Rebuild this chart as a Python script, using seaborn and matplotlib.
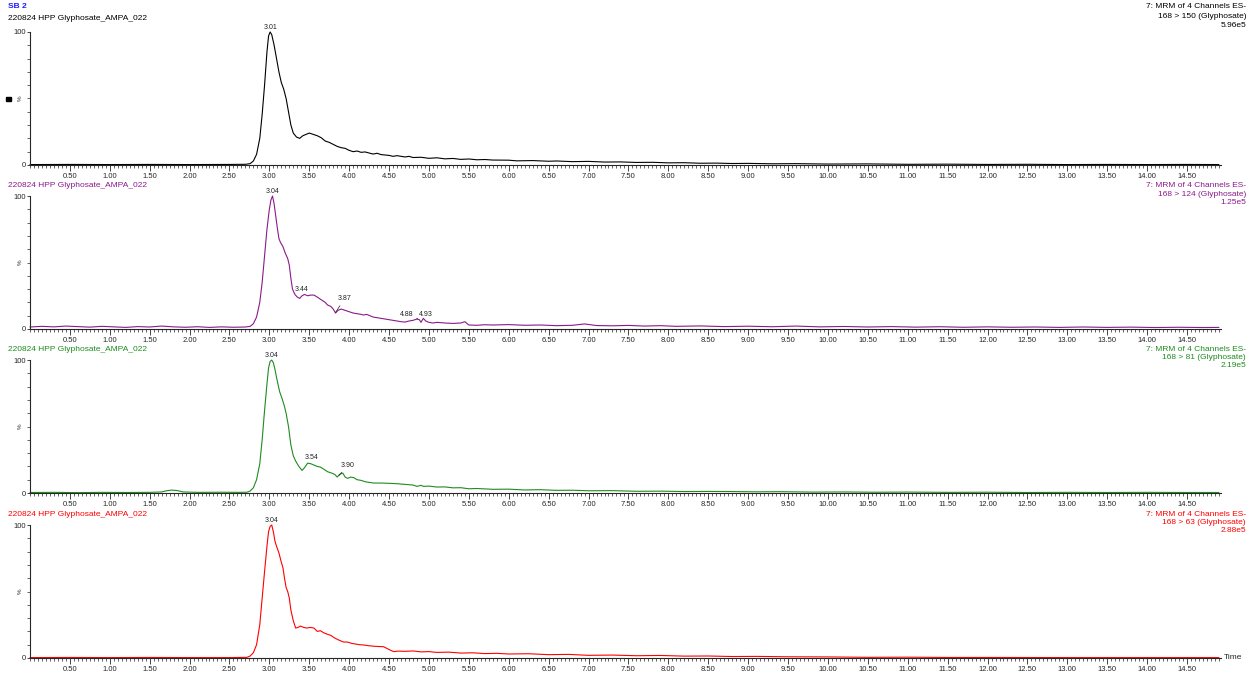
import numpy as np
import pandas as pd
import seaborn as sns
import matplotlib.pyplot as plt
from matplotlib.ticker import MultipleLocator, FixedLocator

# --- data (time in min, relative intensity %) ---
black_t = [0.0, 0.5, 1.0, 1.5, 2.0, 2.5, 2.7, 2.76, 2.80, 2.84, 2.88, 2.91, 2.94, 2.97, 2.99, 3.01,
           3.03, 3.06, 3.09, 3.12, 3.15, 3.18, 3.21, 3.24, 3.27, 3.30, 3.34, 3.38, 3.42, 3.46, 3.50,
           3.55, 3.60, 3.65, 3.70, 3.75, 3.80, 3.85, 3.90, 3.95, 4.00, 4.05, 4.10, 4.15, 4.20, 4.30,
           4.35, 4.40, 4.50, 4.55, 4.60, 4.70, 4.75, 4.80, 4.90, 5.00, 5.10, 5.20, 5.30, 5.40, 5.50,
           5.60, 5.70, 5.80, 6.00, 6.10, 6.30, 6.50, 6.60, 6.80, 7.00, 7.20, 7.40, 7.60, 7.80, 8.00,
           8.20, 8.40, 8.60, 8.80, 9.00, 9.30, 9.60, 10.0, 10.5, 11.0, 11.5, 12.0, 12.5, 13.0, 13.5,
           14.0, 14.5, 14.9]
black_y = [0.3, 0.4, 0.3, 0.4, 0.3, 0.4, 0.5, 1, 3, 8, 20, 38, 60, 85, 97, 100,
           98, 90, 80, 70, 62, 57, 50, 40, 30, 24, 21, 20, 22, 23, 24,
           23, 22, 20.5, 18, 17, 15.5, 14, 13, 12.5, 11, 10, 10.5, 9.5, 9.8, 8.2,
           8.8, 7.8, 7.2, 6.5, 7.0, 6.0, 6.5, 5.6, 5.8, 5.0, 5.4, 4.6, 4.9, 4.2, 4.5,
           3.9, 4.1, 3.7, 3.6, 3.1, 3.3, 2.8, 3.0, 2.5, 2.7, 2.2, 2.3, 1.9, 2.0, 1.6,
           1.7, 1.3, 1.4, 1.1, 1.2, 0.9, 1.0, 0.7, 0.8, 0.5, 0.6, 0.4, 0.5, 0.3, 0.4,
           0.3, 0.4, 0.3]

purple_t = [0.0, 0.15, 0.3, 0.45, 0.6, 0.75, 0.9, 1.05, 1.2, 1.35, 1.5, 1.65, 1.8, 1.95, 2.1, 2.25,
            2.4, 2.55, 2.7, 2.76, 2.80, 2.84, 2.88, 2.91, 2.94, 2.97, 3.00, 3.02, 3.04, 3.06, 3.08,
            3.10, 3.12, 3.14, 3.17, 3.20, 3.23, 3.25, 3.27, 3.29, 3.32, 3.35, 3.38, 3.41, 3.44, 3.48,
            3.52, 3.56, 3.60, 3.65, 3.70, 3.73, 3.77, 3.80, 3.83, 3.86, 3.90, 3.95, 4.00, 4.05, 4.10,
            4.15, 4.18, 4.22, 4.26, 4.30, 4.35, 4.40, 4.45, 4.50, 4.55, 4.60, 4.65, 4.70, 4.75, 4.80,
            4.85, 4.88, 4.90, 4.93, 4.96, 5.00, 5.05, 5.10, 5.20, 5.30, 5.40, 5.45, 5.50, 5.60, 5.70,
            5.80, 6.00, 6.20, 6.40, 6.60, 6.80, 6.95, 7.10, 7.30, 7.50, 7.70, 7.90, 8.10, 8.40, 8.70,
            9.00, 9.30, 9.60, 9.90, 10.2, 10.5, 10.8, 11.1, 11.4, 11.7, 12.0, 12.3, 12.6, 12.9, 13.2,
            13.5, 13.8, 14.1, 14.4, 14.7, 14.9]
purple_y = [1.5, 2.0, 1.6, 2.2, 1.8, 1.4, 2.0, 1.6, 1.2, 1.8, 1.5, 2.2, 1.6, 1.3, 1.7, 1.2,
            1.6, 1.3, 1.5, 2, 4, 9, 20, 35, 55, 75, 90, 97, 100, 94, 85,
            76, 68, 65, 62, 57, 53, 48, 38, 30, 26, 24, 23, 25, 26, 25,
            25.5, 25.5, 24, 22, 20, 18, 17, 15, 12, 14, 15, 14, 13, 12, 11.5,
            11, 10.5, 11, 10, 9, 8.5, 8, 7.5, 7, 6.5, 6, 5.5, 5.2, 6, 6.5,
            7.5, 7.0, 5, 8, 6, 5, 4.5, 5, 4.5, 4.2, 4.5, 5.5, 3.0, 2.8, 3.2,
            3.0, 3.3, 2.8, 3.0, 2.5, 2.8, 3.8, 2.6, 2.4, 2.7, 2.2, 2.5, 2.0, 2.3, 1.8,
            2.1, 1.7, 2.2, 1.6, 1.9, 1.5, 1.8, 1.4, 1.7, 1.3, 1.6, 1.3, 1.5, 1.2, 1.5,
            1.2, 1.4, 1.1, 1.3, 1.1, 1.2]

green_t = [0.0, 0.3, 0.6, 0.9, 1.2, 1.5, 1.65, 1.72, 1.78, 1.85, 1.92, 2.1, 2.4, 2.6, 2.72, 2.76,
           2.80, 2.84, 2.88, 2.91, 2.94, 2.97, 2.99, 3.01, 3.03, 3.05, 3.07, 3.10, 3.13, 3.16, 3.19,
           3.21, 3.24, 3.27, 3.30, 3.33, 3.37, 3.41, 3.44, 3.48, 3.52, 3.56, 3.60, 3.64, 3.68, 3.73,
           3.78, 3.82, 3.85, 3.88, 3.92, 3.95, 3.98, 4.02, 4.06, 4.10, 4.15, 4.20, 4.25, 4.31, 4.40,
           4.50, 4.60, 4.70, 4.80, 4.85, 4.90, 4.93, 5.00, 5.10, 5.20, 5.30, 5.40, 5.50, 5.60, 5.80,
           6.00, 6.20, 6.40, 6.60, 6.80, 7.00, 7.30, 7.60, 7.90, 8.20, 8.50, 8.80, 9.10, 9.40, 9.80,
           10.2, 10.6, 11.0, 11.5, 12.0, 12.5, 13.0, 13.5, 14.0, 14.5, 14.9]
green_y = [0.4, 0.5, 0.3, 0.5, 0.4, 0.5, 0.8, 1.8, 2.2, 1.8, 0.8, 0.5, 0.6, 0.5, 0.6, 1.5,
           4, 10, 22, 40, 62, 82, 94, 99, 100, 98, 93, 84, 76, 71, 65,
           60, 50, 36, 28, 24, 20, 17, 19, 22.5, 22, 21, 20, 19.5, 18, 16,
           15, 14, 12, 14, 15, 12, 11, 12, 11.5, 10, 9.5, 8.5, 8, 7.5, 7.5,
           7.3, 7.0, 6.5, 6, 5, 5.8, 5, 5.2, 4.5, 4.6, 3.9, 4.0, 3.2, 3.4, 2.8,
           2.9, 2.3, 2.5, 2.0, 2.1, 1.7, 1.8, 1.3, 1.4, 1.1, 1.2, 1.1, 0.9, 1.0, 0.7,
           0.8, 0.6, 0.7, 0.5, 0.6, 0.4, 0.5, 0.4, 0.5, 0.4, 0.4]

red_t = [0.0, 0.5, 1.0, 1.5, 2.0, 2.5, 2.72, 2.76, 2.80, 2.84, 2.88, 2.91, 2.94, 2.97, 2.99, 3.01,
         3.03, 3.05, 3.07, 3.09, 3.12, 3.15, 3.17, 3.19, 3.21, 3.23, 3.25, 3.27, 3.30, 3.33, 3.36,
         3.39, 3.43, 3.47, 3.51, 3.56, 3.60, 3.64, 3.68, 3.72, 3.77, 3.82, 3.87, 3.93, 3.98, 4.03,
         4.08, 4.13, 4.18, 4.25, 4.32, 4.38, 4.43, 4.48, 4.53, 4.56, 4.62, 4.70, 4.80, 4.90, 5.00,
         5.10, 5.25, 5.40, 5.55, 5.70, 5.85, 6.00, 6.25, 6.50, 6.75, 7.00, 7.30, 7.60, 7.90, 8.20,
         8.50, 8.80, 9.10, 9.50, 10.0, 10.5, 11.0, 11.5, 12.0, 13.0, 14.0, 14.9]
red_y = [0.3, 0.4, 0.3, 0.4, 0.3, 0.3, 0.5, 1.5, 4, 10, 25, 45, 65, 84, 95, 99,
         100, 95, 88, 84, 79, 72, 68, 60, 53, 50, 45, 36, 28, 22.5, 23,
         24, 23, 22.5, 23, 22.5, 20, 20.5, 19, 18, 17, 15, 13.5, 12, 12, 11,
         10.5, 10, 9.8, 9.2, 8.8, 8.6, 8.5, 7, 5.5, 4.8, 5.2, 5.0, 5.3, 4.6, 4.8,
         4.2, 4.4, 3.7, 3.9, 3.3, 3.5, 3.0, 3.2, 2.5, 2.7, 2.0, 2.2, 1.7, 1.9, 1.4,
         1.5, 1.1, 1.2, 0.9, 0.8, 0.5, 0.6, 0.4, 0.4, 0.3, 0.3, 0.3]

channels = ["168 > 150 (Glyphosate)", "168 > 124 (Glyphosate)",
            "168 > 81 (Glyphosate)", "168 > 63 (Glyphosate)"]
scales = ["5.96e5", "1.25e5", "2.19e5", "2.88e5"]
colors = ["#000000", "#8B1A8B", "#1E8C1E", "#FF0000"]
series = [(black_t, black_y), (purple_t, purple_y), (green_t, green_y), (red_t, red_y)]

# peak labels: (label, label x, label y, point x, point y) ; point None -> no leader
peaks = [
    [("3.01", 3.01, 101, None, None)],
    [("3.04", 3.04, 101, None, None), ("3.44", 3.40, 27, None, None),
     ("3.87", 3.94, 20, 3.83, 12.5), ("4.88", 4.72, 8.5, 4.86, 7.5), ("4.93", 4.96, 8.5, None, None)],
    [("3.04", 3.03, 101, None, None), ("3.54", 3.53, 24, None, None),
     ("3.90", 3.98, 18, 3.87, 13)],
    [("3.04", 3.03, 101, None, None)],
]

sns.set_style("ticks")
plt.rcParams['font.family'] = ['Liberation Sans', 'DejaVu Sans']

fig = plt.figure(figsize=(12.48, 6.75), dpi=100)
left, width, height = 0.024, 0.954, 0.197
bottoms = [0.7556, 0.5126, 0.2696, 0.0252]
# vertical pixel offsets of the header lines relative to each panel's top
name_off = [-13, -11, -11, -11]
info_off = [(-25, -15, -6), (-11, -2, 6), (-11, -3, 5), (-11, -3, 5)]

for i in range(4):
    ax = fig.add_axes([left, bottoms[i], width, height])
    df = pd.DataFrame({"t": series[i][0], "y": series[i][1]})
    sns.lineplot(data=df, x="t", y="y", ax=ax, color=colors[i], linewidth=0.8, clip_on=False)
    ax.set_xlim(0, 14.92)
    ax.set_ylim(0, 100)
    ax.set_xlabel("")
    ax.set_ylabel("")
    sns.despine(ax=ax)
    for s in ax.spines.values():
        s.set_linewidth(0.8)
    ax.xaxis.set_major_locator(FixedLocator(np.arange(0.5, 14.6, 0.5)))
    ax.xaxis.set_minor_locator(MultipleLocator(0.05))
    ax.set_xticklabels([f"{v:.2f}" for v in np.arange(0.5, 14.6, 0.5)])
    ax.yaxis.set_major_locator(FixedLocator([0, 100]))
    ax.yaxis.set_minor_locator(MultipleLocator(10))
    ax.set_yticklabels(["0", "100"])
    ax.tick_params(axis='x', which='major', length=4, width=0.6, labelsize=5.5, pad=2)
    ax.tick_params(axis='x', which='minor', length=2, width=0.5)
    ax.tick_params(axis='y', which='major', length=2, width=0.6, labelsize=5.5, pad=1)
    ax.tick_params(axis='y', which='minor', length=2, width=0.5)

    ax.text(-0.008, 0.5, "%", transform=ax.transAxes, fontsize=4.5, rotation=90,
            ha='center', va='center', color='#333333')

    top_px = (1 - (bottoms[i] + height)) * 675
    fig.text(8 / 1248, 1 - (top_px + name_off[i]) / 675, "220824 HPP Glyphosate_AMPA_022",
             fontsize=6, color=colors[i], ha='left', va='center')
    lines = ["7: MRM of 4 Channels ES-", channels[i], scales[i]]
    for txt, off in zip(lines, info_off[i]):
        fig.text(1246 / 1248, 1 - (top_px + off) / 675, txt,
                 fontsize=6, color=colors[i], ha='right', va='center')

    for lab, lx, ly, px, py in peaks[i]:
        if px is None:
            ax.text(lx, ly, lab, fontsize=5, ha='center', va='bottom', color='#222222')
        else:
            ax.annotate(lab, xy=(px, py), xytext=(lx, ly), fontsize=5, ha='center', va='bottom',
                        color='#222222',
                        arrowprops=dict(arrowstyle='-', color='#222222', lw=0.5, shrinkA=0, shrinkB=0))

    if i == 3:
        ax.text(1.003, 0.0, "Time", transform=ax.transAxes, fontsize=6, ha='left', va='center')

fig.text(8 / 1248, 1 - 7 / 675, "SB 2", fontsize=6, color='#1a1aff', fontweight='bold',
         ha='left', va='center')
fig.patches.append(plt.Rectangle((6 / 1248, 1 - 101 / 675), 5 / 1248, 4 / 675,
                                 transform=fig.transFigure, color='black'))

fig.savefig("out.png", dpi=100)
